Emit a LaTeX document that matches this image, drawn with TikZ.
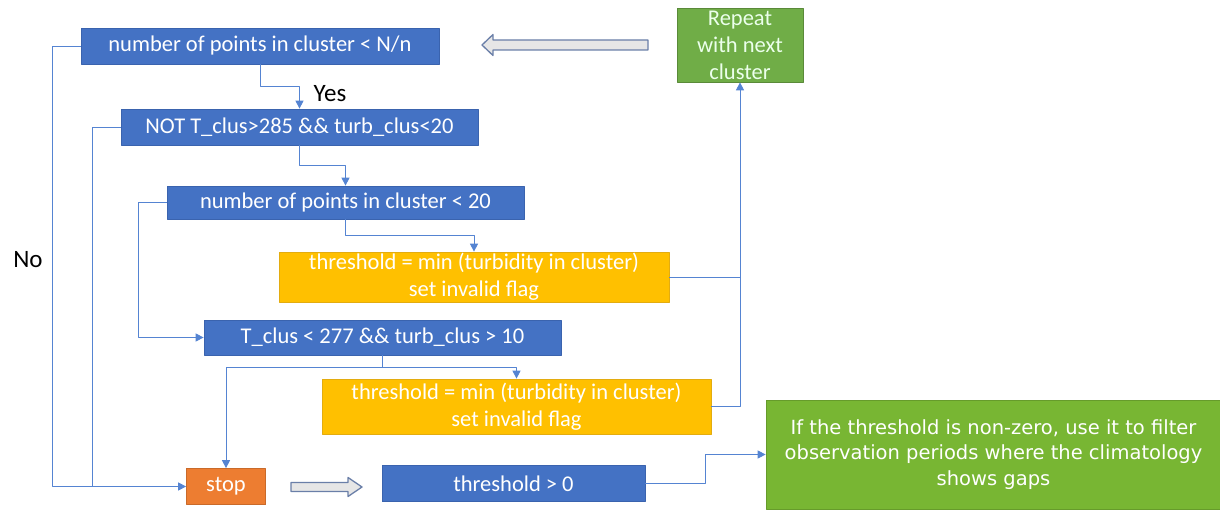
\documentclass[tikz,border=0pt]{standalone}
\usepackage{fontspec}
\setmainfont{Carlito}
\newfontfamily\notefont{DejaVu Sans}
\usetikzlibrary{calc, positioning, arrows.meta}
\definecolor{boxBlue}{HTML}{4472C4}
\definecolor{boxEdge}{HTML}{3A63AE}
\definecolor{flagAmber}{HTML}{FFC000}
\definecolor{flagEdge}{HTML}{E3AC10}
\definecolor{stopOrange}{HTML}{ED7D31}
\definecolor{repeatGreen}{HTML}{70AD47}
\definecolor{noteGreen}{HTML}{78B633}
\definecolor{connC}{HTML}{5584D2}
\definecolor{blockFill}{HTML}{E6E6E6}
\definecolor{blockStroke}{HTML}{6A7FA8}
\def\lwConn{0.9pt}
\def\lwBlock{1.3pt}
\def\noOuterX{52}
\def\noInnerX{92}
\def\sideX{138}

\begin{document}
\begin{tikzpicture}[x=1pt, y=-1pt, line join=round,
  font=\fontsize{22.5}{27}\selectfont,
  procbox/.style={fill=boxBlue, draw=boxEdge, line width=0.7pt, text=white, inner sep=0pt},
  flagbox/.style={fill=flagAmber, draw=flagEdge, line width=0.7pt, text=white, inner sep=0pt, align=center},
  stopbox/.style={fill=stopOrange, draw=stopOrange!85!black, line width=0.7pt, text=white, inner sep=0pt},
  repeatbox/.style={fill=repeatGreen, draw=repeatGreen!80!black, line width=0.7pt, text=white!92!green, inner sep=0pt, align=center},
  notebox/.style={fill=noteGreen, draw=noteGreen!85!black, line width=0.7pt, text=white, inner sep=0pt, align=center,
    font=\notefont\fontsize{19.5}{25.5}\selectfont},
  flow/.style={connC, line width=\lwConn},
  flowarr/.style={flow, -{Triangle[length=8pt, width=8pt]}},
  blockarr/.style={fill=blockFill, draw=blockStroke, line width=\lwBlock},
  answer/.style={text=black, font=\fontsize{25}{30}\selectfont}]

  \useasboundingbox (0,0) rectangle (1220,510);

  % Decision boxes
  \node[procbox, minimum width=358, minimum height=36] (ptsNn) at (260, 46) {number of points in cluster < N/n};
  \node[procbox, minimum width=357, minimum height=36] (notTc) at (299.5, 127) {NOT T\_clus>285 \&\& turb\_clus<20};
  \node[procbox, minimum width=357, minimum height=33] (pts20) at (345.5, 202.5) {number of points in cluster < 20};
  \node[flagbox, minimum width=390, minimum height=50] (flagA) at (474, 277) {threshold = min (turbidity in cluster)\\set invalid flag};
  \node[procbox, minimum width=357, minimum height=35] (tc277) at (382.5, 337.5) {T\_clus < 277 \&\& turb\_clus > 10};
  \node[flagbox, minimum width=389, minimum height=55] (flagB) at (516.5, 406.5) {threshold = min (turbidity in cluster)\\set invalid flag};
  \node[stopbox, minimum width=79, minimum height=36] (stop) at (226, 486.5) {stop};
  \node[procbox, minimum width=263, minimum height=36] (thrpos) at (513.5, 483.5) {threshold > 0};

  % Result boxes
  \node[repeatbox, minimum width=126, minimum height=74] (repeat) at (740, 45) {Repeat\\with next\\cluster};
  \node[notebox, minimum width=455, minimum height=109] (note) at (993.5, 454.5)
    {If the threshold is non-zero, use it to filter\\observation periods where the climatology\\shows gaps};

  % Answer labels
  \node[answer] (yes) at (330, 94) {Yes};
  \node[answer] (no) at (28, 260) {No};

  % Bend points
  \coordinate (noOuter) at (\noOuterX, 0);
  \coordinate (noInner) at (\noInnerX, 0);
  \coordinate (side) at (\sideX, 0);
  \coordinate (kA) at ($(pts20.south)!0.5!(flagA.north)$);
  \coordinate (kB) at ($(tc277.south)!0.5!(flagB.north)$);
  \coordinate (kC) at ($(thrpos.east)!0.5!(note.west)$);

  % --- YES chain ---
  \draw[flowarr] (ptsNn.south) |- ($(ptsNn.south)!0.5!(notTc.north)$) -| (notTc.north);
  \draw[flowarr] (notTc.south) |- ($(notTc.south)!0.5!(pts20.north)$) -| (pts20.north);
  \draw[flowarr] (pts20.south) -- (pts20.south |- kA) -| (flagA.north);
  \draw[flowarr] (pts20.west) -| (tc277.west -| side) -- (tc277.west);
  \draw[flowarr] (tc277.south) -- (tc277.south |- kB) -| (flagB.north);
  \draw[flowarr] (tc277.south |- kB) -| (stop.north);

  % --- NO branches into stop ---
  \draw[flowarr] (ptsNn.west) -| (stop.west -| noOuter) -- (stop.west);
  \draw[flow] (notTc.west) -| (stop.west -| noInner);

  % --- flags back to next cluster ---
  \draw[flowarr] (flagA.east) -| (repeat.south);
  \draw[flow] (flagB.east) -| (flagA.east -| repeat.south);

  % --- threshold to note ---
  \draw[flowarr] (thrpos.east) -| (kC) |- (note.west);

  % Block arrows
  \draw[blockarr] (482,45) -- (493,34.5) -- (493,40) -- (648,40) -- (648,50) -- (493,50) -- (493,55.5) -- cycle;
  \draw[blockarr] (362,487) -- (348,477.5) -- (348,482.5) -- (291,482.5) -- (291,491.5) -- (348,491.5) -- (348,496.5) -- cycle;
\end{tikzpicture}
\end{document}
